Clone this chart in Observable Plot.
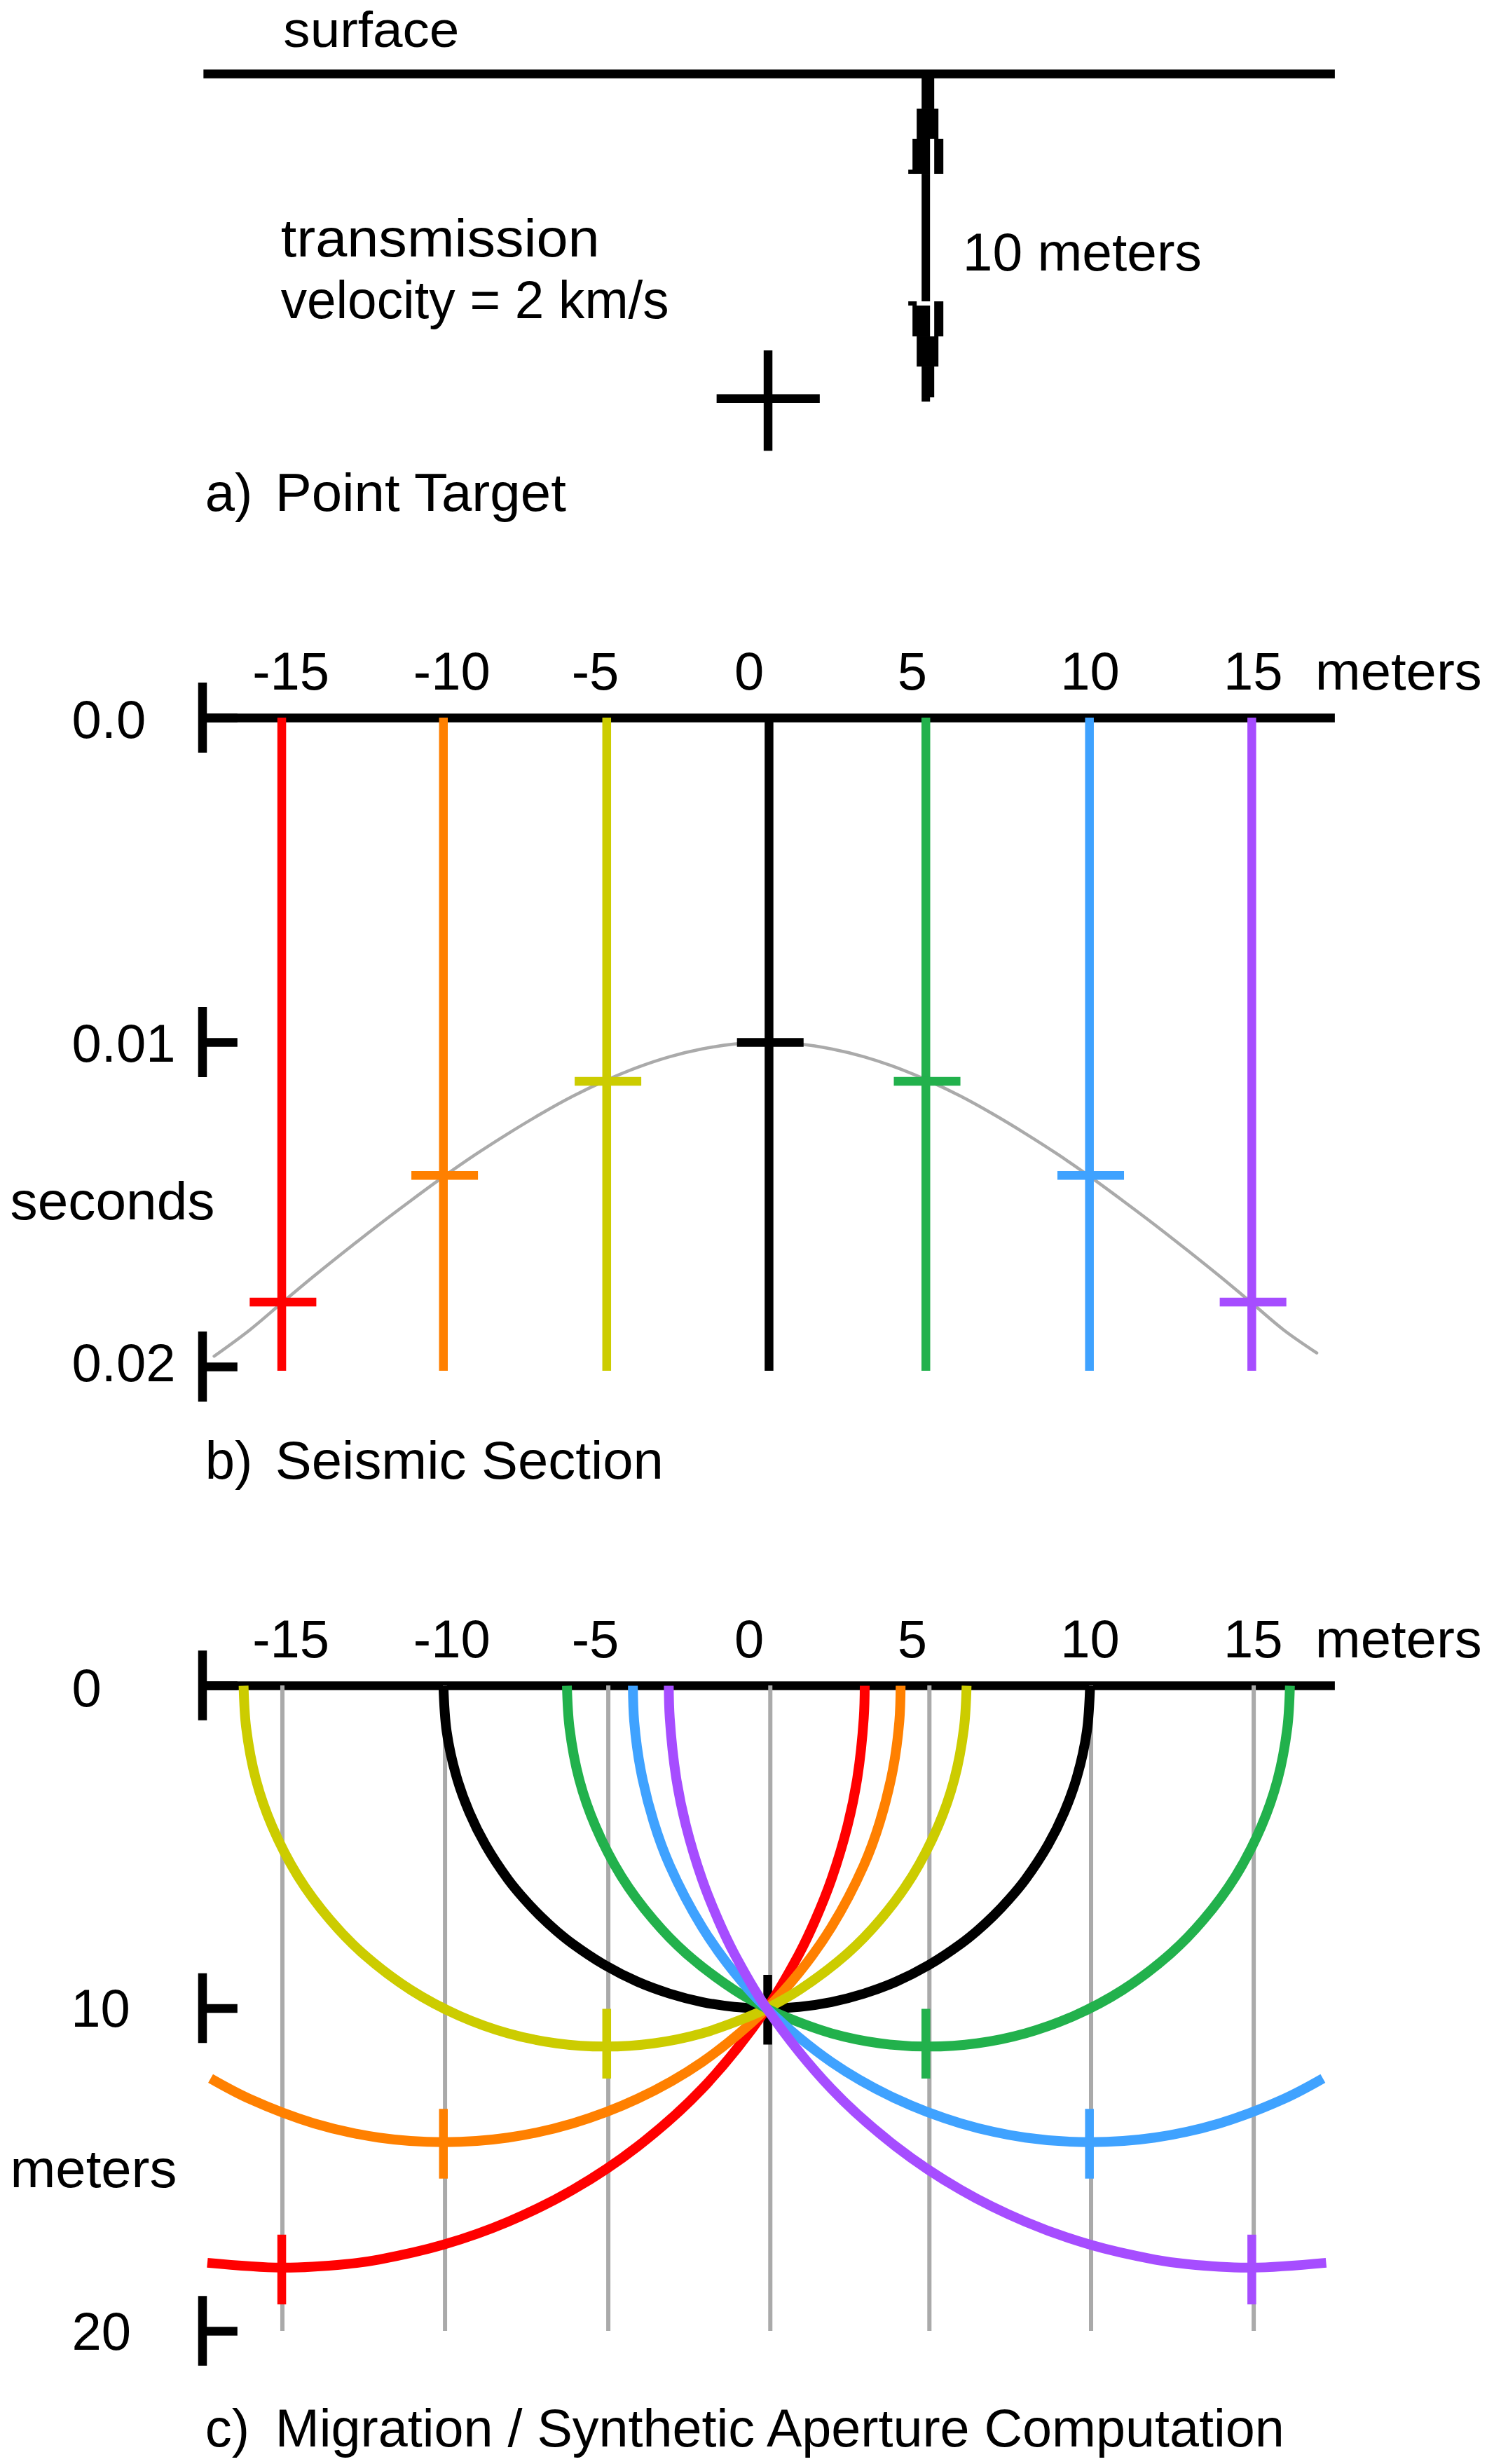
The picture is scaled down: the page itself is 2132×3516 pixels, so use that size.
<!DOCTYPE html>
<html><head><meta charset="utf-8">
<style>html,body{margin:0;padding:0;background:#fff}svg{display:block}</style>
<script src="https://cdn.jsdelivr.net/npm/d3@7"></script>
<script src="https://cdn.jsdelivr.net/npm/@observablehq/plot@0.6"></script>
</head><body>
<script>
// ---- data -------------------------------------------------------------
const xTicks = [-15, -10, -5, 0, 5, 10, 15];
const colors = ["#ff0000", "#ff8000", "#cccc00", "#000000", "#22b14c", "#3fa2ff", "#a64dff"];

// a) arrow glyph, as read in meters (left, right, top, bottom)
const arrowLeft   = [4.8, 4.648, 4.518, 5.19, 4.388, 4.8, 4.388, 4.518, 5.19, 4.648, 4.8, 4.8];
const arrowRight  = [5.19, 5.32, 5.06, 5.472, 4.648, 5.06, 4.648, 5.06, 5.472, 5.32, 5.19, 5.06];
const arrowTop    = [0, 1.068, 1.987, 1.987, 2.927, 3.056, 6.944, 7.073, 6.944, 8.013, 8.932, 9.872];
const arrowBottom = [1.068, 1.987, 3.056, 3.056, 3.056, 6.944, 7.073, 8.013, 8.013, 8.932, 9.872, 10];

// b) seismic section
const traceX = [-15, -10, -4.95, 0.07, 4.92, 9.98, 15];
const arrivalSeconds = [0.018, 0.0141, 0.0112, 0.01, 0.0112, 0.0141, 0.018];
const secondsTicks = [0, 0.01, 0.02];
const secondsLabels = ["0.0", "0.01", "0.02"];
const hyperbolaX = [-17.09, -16, -15, -14, -13, -12, -11, -10, -9, -8, -7, -6, -5, -4, -3, -2, -1, 0, 1, 2, 3, 4, 5, 6, 7, 8, 9, 10, 11, 12, 13, 14, 15, 16, 17.01];
const hyperbolaSeconds = [0.01967, 0.01887, 0.01803, 0.0172, 0.0164, 0.01562, 0.01487, 0.01414, 0.01345, 0.01281, 0.01221, 0.01166, 0.01118, 0.01077, 0.01044, 0.0102, 0.01005, 0.01, 0.01005, 0.0102, 0.01044, 0.01077, 0.01118, 0.01166, 0.01221, 0.01281, 0.01345, 0.01414, 0.01487, 0.01562, 0.0164, 0.0172, 0.01803, 0.01887, 0.01957];

// c) migration
const gridX = [-14.98, -9.95, -4.9, 0.11, 5.03, 10.03, 15.06];
const depthTicks = [0, 10, 20];
const depthLabels = ["0", "10", "20"];
const focusX = [-15, -10, -4.95, 0.03, 4.92, 9.98, 15];
const focusDepth = [18.1, 14.2, 11.1, 10.05, 11.1, 14.2, 18.1];

const blackX = [-10, -9.9, -9.6, -9.2, -8.7, -8, -7.5, -7, -6.5, -6, -5, -4, -3, -2, -1, 0, 1, 2, 3, 4, 5, 6, 6.5, 7, 7.5, 8, 8.7, 9.2, 9.6, 9.9, 10];
const blackDepth = [0, 1.41, 2.8, 3.92, 4.93, 6, 6.61, 7.14, 7.6, 8, 8.66, 9.17, 9.54, 9.8, 9.95, 10, 9.95, 9.8, 9.54, 9.17, 8.66, 8, 7.6, 7.14, 6.61, 6, 4.93, 3.92, 2.8, 1.41, 0];

const redX = [-17.3, -15, -13, -12, -10, -8, -6, -4, -2, 0, 1, 1.5, 2, 2.5, 2.8, 3, 3.03];
const redDepth = [17.88, 18.03, 17.92, 17.78, 17.32, 16.61, 15.62, 14.28, 12.49, 10, 8.31, 7.26, 6, 4.33, 2.86, 1, 0];

const orangeX = [-17.2, -16, -14, -12, -10, -8, -6, -4, -2, 0, 1, 2, 3, 3.5, 3.9, 4.1, 4.14];
const orangeDepth = [12.17, 12.8, 13.56, 14, 14.14, 14, 13.56, 12.8, 11.66, 10, 8.89, 7.48, 5.57, 4.21, 2.6, 1.1, 0];

const yellowX = [-16.18, -16.1, -15.8, -15.3, -14.5, -13.5, -12.5, -11, -9.5, -8, -6.5, -5, -3.5, -2, -0.5, 0, 1, 2.5, 3.5, 4.5, 5.3, 5.8, 6.1, 6.18];
const yellowDepth = [0, 1.3, 2.9, 4.35, 5.9, 7.26, 8.29, 9.43, 10.23, 10.77, 11.08, 11.18, 11.08, 10.77, 10.23, 10, 9.43, 8.29, 7.26, 5.9, 4.35, 2.9, 1.3, 0];

const greenX = [-6.18, -6.1, -5.8, -5.3, -4.5, -3.5, -2.5, -1, 0, 0.5, 2, 3.5, 5, 6.5, 8, 9.5, 11, 12.5, 13.5, 14.5, 15.3, 15.8, 16.1, 16.18];
const greenDepth = [0, 1.3, 2.9, 4.35, 5.9, 7.26, 8.29, 9.43, 10, 10.23, 10.77, 11.08, 11.18, 11.08, 10.77, 10.23, 9.43, 8.29, 7.26, 5.9, 4.35, 2.9, 1.3, 0];

const blueX = [-4.14, -4.1, -3.9, -3.5, -3, -2, -1, 0, 2, 4, 6, 8, 10, 12, 14, 16, 17.2];
const blueDepth = [0, 1.1, 2.6, 4.21, 5.57, 7.48, 8.89, 10, 11.66, 12.8, 13.56, 14, 14.14, 14, 13.56, 12.8, 12.17];

const purpleX = [-3.03, -3, -2.8, -2.5, -2, -1.5, -1, 0, 2, 4, 6, 8, 10, 12, 13, 15, 17.3];
const purpleDepth = [0, 1, 2.86, 4.33, 6, 7.26, 8.31, 10, 12.49, 14.28, 15.62, 16.61, 17.32, 17.78, 17.92, 18.03, 17.88];

const migrationCurves = [
  [blackX, blackDepth, "#000000"],
  [redX, redDepth, "#ff0000"],
  [orangeX, orangeDepth, "#ff8000"],
  [yellowX, yellowDepth, "#cccc00"],
  [greenX, greenDepth, "#22b14c"],
  [blueX, blueDepth, "#3fa2ff"],
  [purpleX, purpleDepth, "#a64dff"]
];

// ---- layout -----------------------------------------------------------
const FONT = "'Liberation Sans', Arial, sans-serif";
const FS = 76;
const GREY = "#aaaaaa";
const W = 12.5;
const xScale = {domain: [-17.45, 17.55], range: [288.5, 1903.5], axis: null};
const tickLabelDx = [13, 12, -14, -25, -23, 0, 2];
const AXIS_X = -17.45, AXIS_START = -17.41, AXIS_END = 17.58, STUB_END = -16.36;
const CAP_A = -17.37, CAP_T = -15.2;
// widths of the reference's bitmap-font strings, in pixels
const textWidths = {
  "surface": 251, "transmission": 455, "velocity = 2 km/s": 554, "10 meters": 341,
  "Point Target": 415, "Seismic Section": 554, "Migration / Synthetic Aperture Computation": 1440,
  "seconds": 292, "meters": 238
};

function label(text, x, y, extra = {}) {
  return Plot.text([text], {x: () => x, y: () => y, text: d => d, textAnchor: "start", lineAnchor: "bottom",
    fontSize: FS, fill: "#000", ...extra});
}
function frame(height, yScale, marks) {
  const svg = Plot.plot({width: 2132, height, margin: 0, x: xScale, y: {...yScale, axis: null},
    color: {type: "identity"}, style: {fontFamily: FONT, background: "#fff"}, marks});
  svg.querySelectorAll("text").forEach(t => {
    const w = textWidths[t.textContent];
    if (w) { t.setAttribute("textLength", w); t.setAttribute("lengthAdjust", "spacingAndGlyphs"); }
  });
  return svg;
}
function topAxisLabels(y) {
  return [
    ...xTicks.map((t, i) => Plot.text([t], {x: d => d, y: () => y, text: d => String(d), textAnchor: "middle",
      lineAnchor: "bottom", fontSize: FS, fill: "#000", dx: tickLabelDx[i]})),
    label("meters", 16.96, y)
  ];
}
function leftAxis(ticks, texts, half, labelX, dys) {
  return [
    Plot.ruleX(ticks, {x: () => AXIS_X, y1: d => d - half, y2: d => d + half, stroke: "#000", strokeWidth: W}),
    Plot.ruleY(ticks, {y: d => d, x1: () => AXIS_X, x2: () => STUB_END, stroke: "#000", strokeWidth: W}),
    ...ticks.map((t, i) => Plot.text([t], {x: () => labelX[i], y: d => d, text: () => texts[i], textAnchor: "start",
      lineAnchor: "middle", fontSize: FS, fill: "#000", dy: dys[i]}))
  ];
}

// ---- a) point target ----------------------------------------------------
const arrowParts = arrowLeft.map((l, i) => ({l, r: arrowRight[i], t: arrowTop[i], b: arrowBottom[i]}));
const plotA = frame(860, {domain: [0, 10], range: [105, 573]}, [
  Plot.ruleY([0], {x1: () => AXIS_START, x2: () => AXIS_END, stroke: "#000", strokeWidth: W}),
  Plot.rect(arrowParts, {x1: "l", x2: "r", y1: "t", y2: "b", fill: "#000"}),
  Plot.ruleY([9.9], {y: d => d, x1: () => -1.54, x2: () => 1.65, stroke: "#000", strokeWidth: W}),
  Plot.ruleX([0.04], {x: d => d, y1: 8.44, y2: 11.5, stroke: "#000", strokeWidth: W}),
  label("surface", -14.95, -0.833, {fontSize: 72}),
  label("transmission", -15.03, 5.556),
  label("velocity = 2 km/s", -15.03, 7.457),
  label("10 meters", 6.06, 6.004),
  label("a)", CAP_A, 13.33),
  label("Point Target", CAP_T, 13.33)
]);

// ---- b) seismic section -------------------------------------------------
const traces = traceX.map((x, i) => ({x, t: arrivalSeconds[i], color: colors[i]}));
const hyperbola = hyperbolaX.map((x, i) => ({x, t: hyperbolaSeconds[i]}));
const plotB = frame(1340, {domain: [0, 0.02], range: [164, 1090]}, [
  ...topAxisLabels(-0.000864),
  label("seconds", -23.4, 0.015464),
  label("b)", CAP_A, 0.02344),
  label("Seismic Section", CAP_T, 0.02344),
  ...leftAxis(secondsTicks, secondsLabels, 0.00108, [-21.49, -21.49, -21.49], [4, 3, -4]),
  Plot.ruleY([0], {x1: () => AXIS_START, x2: () => AXIS_END, stroke: "#000", strokeWidth: W}),
  Plot.line(hyperbola, {x: "x", y: "t", stroke: GREY, strokeWidth: 4.5, curve: "catmull-rom"}),
  Plot.ruleX(traces, {x: "x", y1: 0, y2: 0.02013, stroke: "color", strokeWidth: W}),
  Plot.ruleY(traces, {y: "t", x1: d => d.x - 0.98, x2: d => d.x + 1.08, stroke: "color", strokeWidth: W})
]);

// ---- c) migration -------------------------------------------------------
const focus = focusX.map((x, i) => ({x, d: focusDepth[i], color: colors[i]}));
const plotC = frame(1316, {domain: [0, 20], range: [205, 1126]}, [
  ...topAxisLabels(-0.89),
  label("meters", -23.4, 15.53),
  label("c)", CAP_A, 23.58),
  label("Migration / Synthetic Aperture Computation", CAP_T, 23.58),
  ...leftAxis(depthTicks, depthLabels, 1.08, [-21.49, -21.52, -21.49], [5, 2, 2]),
  Plot.ruleY([0], {x1: () => AXIS_START, x2: () => AXIS_END, stroke: "#000", strokeWidth: W}),
  Plot.ruleX(gridX, {x: d => d, y1: 0, y2: 20, stroke: GREY, strokeWidth: 6}),
  Plot.ruleX(focus.filter(d => d.color === "#000000"), {x: "x", y1: d => d.d - 1.08, y2: d => d.d + 1.08, stroke: "color", strokeWidth: W}),
  ...migrationCurves.map(([xs, ds, c]) =>
    Plot.line(xs.map((x, i) => ({x, d: ds[i]})), {x: "x", y: "d", stroke: c, strokeWidth: 14, curve: "catmull-rom", strokeLinecap: "butt", strokeLinejoin: "round"})),
  Plot.ruleX(focus.filter(d => d.color !== "#000000"), {x: "x", y1: d => d.d - 1.08, y2: d => d.d + 1.08, stroke: "color", strokeWidth: W})
]);

document.body.append(plotA, plotB, plotC);
</script>
</body></html>
